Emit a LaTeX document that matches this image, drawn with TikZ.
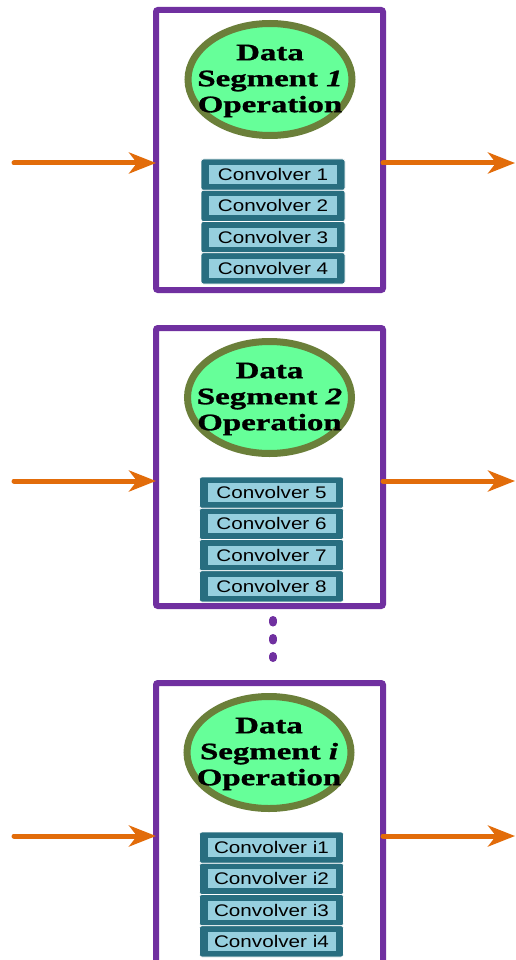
\documentclass[tikz,border=0pt]{standalone}
\usepackage{fontspec}
\setmainfont{Liberation Serif}
\newfontfamily\segfont[FakeStretch=1.4,FakeBold=1.2]{Liberation Serif}
\newfontfamily\convfont[FakeStretch=1.23]{Liberation Sans}
\usetikzlibrary{arrows.meta,shapes.geometric}

\definecolor{blockpurple}{RGB}{112,48,160}
\definecolor{flowarrow}{RGB}{226,108,10}
\definecolor{segfill}{RGB}{102,255,153}
\definecolor{segborder}{RGB}{107,127,58}
\definecolor{convdark}{RGB}{40,110,128}
\definecolor{convlight}{RGB}{150,207,222}

\tikzset{
  block/.style={draw=blockpurple, line width=6pt, rounded corners=2pt,
    minimum width=227pt, inner sep=0pt, outer sep=0pt},
  segment/.style={ellipse, draw=segborder, fill=segfill, line width=7pt,
    minimum width=164pt, minimum height=112pt, inner sep=0pt, outer sep=0pt},
  segtext/.style={align=center, inner sep=0pt,
    font=\segfont\bfseries\fontsize{23.5}{26}\selectfont},
  convouter/.style={fill=convdark, draw=white, line width=0.6pt,
    rounded corners=2.5pt, minimum width=144pt, minimum height=31.25pt,
    inner sep=0pt, outer sep=0pt},
  convinner/.style={fill=convlight, minimum width=128pt, minimum height=19pt,
    inner sep=0pt, font=\convfont\fontsize{16.8}{18}\selectfont},
  flow/.style={draw=flowarrow, line width=5pt, line cap=round,
    -{Stealth[length=27pt, width=21pt, inset=8pt]}},
  dotline/.style={draw=blockpurple, line width=8pt, line cap=round,
    dash pattern=on 2.5pt off 15.5pt}
}

\begin{document}
\begin{tikzpicture}[x=1pt, y=-1pt]
  \useasboundingbox (0,0) rectangle (515,960);
  \clip (0,0) rectangle (515,960);

  % ---------- Segment 1 ----------
  \node[block, minimum height=280pt] (b1) at (269.5,150) {};
  \node[segment] (e1) at (270,79.5) {};
  \node[segtext] (t1) at (270,81) {Data\\Segment \textit{1}\\Operation};
  \foreach \k/\lab in {0/1,1/2,2/3,3/4}{
    \node[convouter] (c1\k) at (273,{159+15.625+31.25*\k}) {};
    \node[convinner] (c1\k t) at (c1\k) {Convolver \lab};
  }
  \coordinate (in1) at (14,163);
  \coordinate (out1) at (515,163);
  \draw[flow] (in1) -- (in1 -| b1.west);
  \draw[flow] (out1 -| b1.east) -- (out1);

  % ---------- Segment 2 ----------
  \node[block, minimum height=278pt] (b2) at (269.5,467) {};
  \node[segment] (e2) at (269.5,397.5) {};
  \node[segtext] (t2) at (269.5,399) {Data\\Segment \textit{2}\\Operation};
  \foreach \k/\lab in {0/5,1/6,2/7,3/8}{
    \node[convouter] (c2\k) at (271.5,{477+15.625+31.25*\k}) {};
    \node[convinner] (c2\k t) at (c2\k) {Convolver \lab};
  }
  \coordinate (in2) at (14,481);
  \coordinate (out2) at (515,481);
  \draw[flow] (in2) -- (in2 -| b2.west);
  \draw[flow] (out2 -| b2.east) -- (out2);

  % ---------- Segment i ----------
  \node[block, minimum height=320pt] (b3) at (269.5,843) {};
  \node[segment] (e3) at (269,752.5) {};
  \node[segtext] (t3) at (269,754) {Data\\Segment \textit{i}\\Operation};
  \foreach \k/\lab in {0/i1,1/i2,2/i3,3/i4}{
    \node[convouter] (c3\k) at (271.5,{832+15.625+31.25*\k}) {};
    \node[convinner] (c3\k t) at (c3\k) {Convolver \lab};
  }
  \coordinate (in3) at (14,836);
  \coordinate (out3) at (515,836);
  \draw[flow] (in3) -- (in3 -| b3.west);
  \draw[flow] (out3 -| b3.east) -- (out3);

  % ---------- continuation dots ----------
  \draw[dotline, shorten <=14pt, shorten >=25pt]
    ([xshift=3.5pt]b2.south) -- ([xshift=3.5pt]b2.south |- b3.north);
\end{tikzpicture}
\end{document}
